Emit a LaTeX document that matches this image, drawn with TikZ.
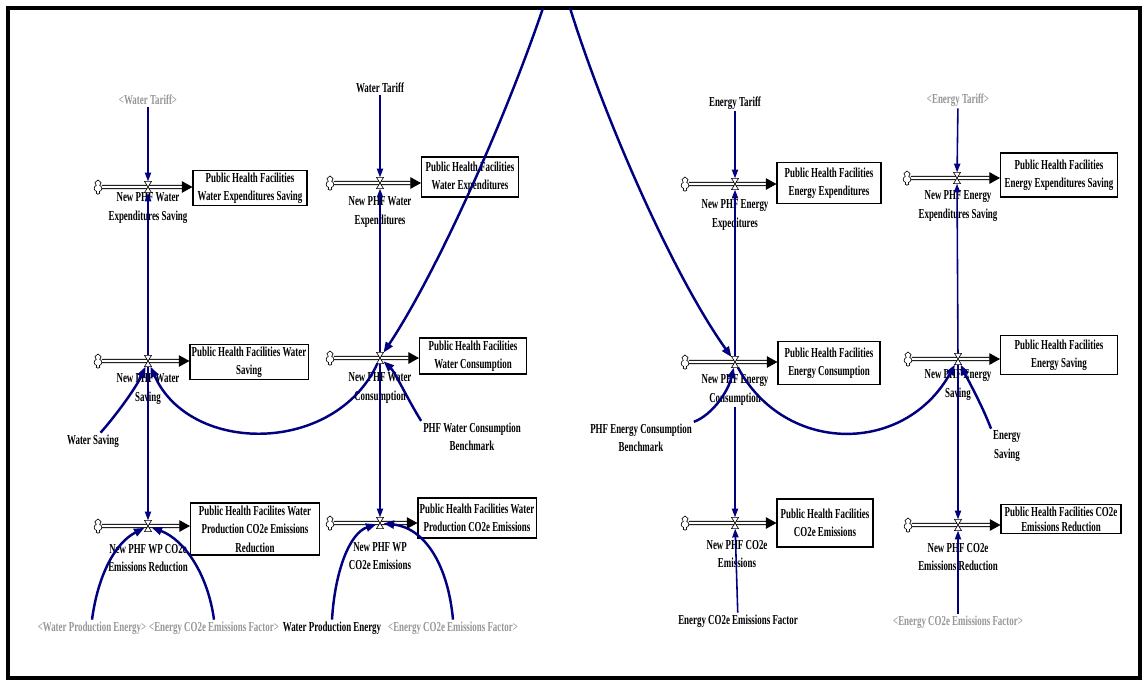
\documentclass[tikz,border=0pt]{standalone}
\usepackage{fontspec}
\setmainfont{Liberation Serif}[FakeStretch=0.65]
\usetikzlibrary{arrows.meta, shapes.symbols}
\definecolor{vblue}{RGB}{0,0,128}
\definecolor{vgray}{RGB}{150,150,150}
\newcommand{\vfont}{\bfseries\fontsize{7.8pt}{10.5pt}\selectfont}

\begin{document}
\begin{tikzpicture}[x=0.02cm, y=-0.02cm,
  stock/.style={rectangle, draw=black, line width=0.6pt, fill=white, align=center,
                inner sep=1pt, font=\vfont},
  varlbl/.style={align=center, inner sep=1pt, font=\vfont},
  shadow/.style={varlbl, text=vgray},
  valve/.style={inner sep=0pt, minimum width=3.6pt, minimum height=6pt},
  valvemark/.style={draw=black, fill=white, line width=0.35pt},
  sink/.style={cloud, cloud puffs=7, draw=black, line width=0.35pt, inner sep=0pt,
               minimum width=4.5pt, minimum height=8pt},
  pipe/.style={double, double distance=1.3pt, line width=0.5pt,
               -{Triangle[length=6pt,width=6.5pt]}},
  link/.style={draw=vblue, line width=0.9pt, -{Triangle[length=5pt,width=3.5pt]}},
  curvelink/.style={draw=vblue, line width=1.4pt, -{Triangle[length=6pt,width=4.5pt]}}
]
  \useasboundingbox (0,0) rectangle (1146,681);
  \draw[line width=2pt] (8,8) rectangle (1140,678);
  \coordinate (topa) at (543,8);
  \coordinate (topb) at (570,8);

  \node[stock, minimum width=2.28cm, minimum height=0.66cm] (wes) at (250,188) {Public Health Facilities\\Water Expenditures Saving};
  \node[stock, minimum width=1.94cm, minimum height=0.80cm] (wex) at (470,177) {Public Health Facilities\\Water Expenditures};
  \node[stock, minimum width=2.08cm, minimum height=0.82cm] (eex) at (829,183) {Public Health Facilities\\Energy Expenditures};
  \node[stock, minimum width=2.34cm, minimum height=0.88cm] (ees) at (1059,175) {Public Health Facilities\\Energy Expenditures Saving};
  \node[stock, minimum width=2.36cm, minimum height=0.66cm] (wsa) at (249,362) {Public Health Facilities Water\\Saving};
  \node[stock, minimum width=2.14cm, minimum height=0.72cm] (wco) at (473,356) {Public Health Facilities\\Water Consumption};
  \node[stock, minimum width=2.04cm, minimum height=0.86cm] (eco) at (829,363) {Public Health Facilities\\Energy Consumption};
  \node[stock, minimum width=2.34cm, minimum height=0.78cm] (esa) at (1059,355) {Public Health Facilities\\Energy Saving};
  \node[stock, minimum width=2.58cm, minimum height=1.04cm] (wer) at (255,529) {Public Health Facilites Water\\Production CO2e Emissions\\Reduction};
  \node[stock, minimum width=2.36cm, minimum height=0.80cm] (wem) at (477,518) {Public Health Facilities Water\\Production CO2e Emissions};
  \node[stock, minimum width=1.92cm, minimum height=0.96cm] (eem) at (825,523) {Public Health Facilities\\CO2e Emissions};
  \node[stock, minimum width=2.40cm, minimum height=0.56cm,
        font=\bfseries\fontsize{7.8pt}{8.6pt}\selectfont] (eer) at (1061,519) {Public Health Facilities CO2e\\Emissions Reduction};

  \node[varlbl] (wesl) at (148,208) {New PHF Water\\Expenditures Saving};
  \node[varlbl] (wexl) at (380,212) {New PHF Water\\Expenditures};
  \node[varlbl] (eexl) at (735,215) {New PHF Energy\\Expeditures};
  \node[varlbl] (eesl) at (958,206) {New PHF Energy\\Expenditures Saving};
  \node[varlbl] (wsal) at (148,389) {New PHF Water\\Saving};
  \node[varlbl] (wcol) at (380,388) {New PHF Water\\Consumption};
  \node[varlbl] (ecol) at (735,390) {New PHF Energy\\Consumption};
  \node[varlbl] (esal) at (958,385) {New PHF Energy\\Saving};
  \node[varlbl] (werl) at (148,558) {New PHF WP CO2e\\Emissions Reduction};
  \node[varlbl] (weml) at (380,556) {New PHF WP\\CO2e Emissions};
  \node[varlbl] (eeml) at (737,554) {New PHF CO2e\\Emissions};
  \node[varlbl] (eerl) at (958,557) {New PHF CO2e\\Emissions Reduction};

  \node[shadow] (wt1)  at (148,100) {<Water Tariff>};
  \node[varlbl] (wt2)  at (380,88)  {Water Tariff};
  \node[varlbl] (et3)  at (735,103) {Energy Tariff};
  \node[shadow] (et4)  at (958,100) {<Energy Tariff>};
  \node[varlbl] (ws)   at (93,441)  {Water Saving};
  \node[varlbl] (bw)   at (472,437) {PHF Water Consumption\\Benchmark};
  \node[varlbl] (be)   at (641,438) {PHF Energy Consumption\\Benchmark};
  \node[varlbl] (es)   at (1007,446) {Energy\\Saving};
  \node[shadow] (wpe1) at (92,628)  {<Water Production Energy>};
  \node[shadow] (ef1)  at (214,628) {<Energy CO2e Emissions Factor>};
  \node[varlbl] (wpe2) at (332,628) {Water Production Energy};
  \node[shadow] (ef2)  at (453,628) {<Energy CO2e Emissions Factor>};
  \node[varlbl] (ef3)  at (738,621) {Energy CO2e Emissions Factor};
  \node[shadow] (ef4)  at (958,622) {<Energy CO2e Emissions Factor>};

  \foreach \nm/\x/\y in {wes/148/187, wex/380/183, eex/735/184, ees/957/178,
                         wsa/148/361, wco/380/358, eco/735/362, esa/958/359,
                         wer/148/526, wem/380/523, eem/735/523, eer/958/525} {
    \node[sink] (\nm c) at (\x-50,\y) {};
    \node[valve] (\nm v) at (\x,\y) {};
    \draw[pipe] (\nm c) -- (\nm c -| \nm.west);
    \draw[valvemark] (\nm v.north west) -- (\nm v.north east) -- (\nm v.south west)
      -- (\nm v.south east) -- cycle;
  }

  \draw[link] (wt1) -- (wesv);
  \draw[link] (wsav) -- (wesv);
  \draw[link] (wsav) -- (werv);
  \draw[link] (wt2) -- (wexv);
  \draw[link] (wcov) -- (wexv);
  \draw[link] (wcov) -- (wemv);
  \draw[link] (et3) -- (eexv);
  \draw[link] (ecov) -- (eexv);
  \draw[link] (ecol) -- (eemv);
  \draw[link] (ef3) -- (eemv);
  \draw[link] (et4) -- (eesv);
  \draw[link] (esav) -- (eesv);
  \draw[link] (esav) -- (eerv);
  \draw[link] (ef4) -- (eerv);

  \draw[curvelink] (topa) .. controls (505,120) and (437,272) .. (wcov);
  \draw[curvelink] (topb) .. controls (605,120) and (673,275) .. (ecov);
  \draw[curvelink] (wcov) .. controls (335,455) and (190,455) .. (wsav);
  \draw[curvelink] (ecov) .. controls (785,455) and (905,455) .. (esav);
  \draw[curvelink] (ws) .. controls (112,420) and (135,390) .. (wsav);
  \draw[curvelink] (bw.north west) .. controls (408,400) and (395,372) .. (wcov);
  \draw[curvelink] (be.north east) .. controls (712,415) and (728,392) .. (ecov);
  \draw[curvelink] (es.north west) .. controls (982,405) and (968,380) .. (esav);
  \draw[curvelink] (wpe1.north) .. controls (98,575) and (115,543) .. (werv);
  \draw[curvelink] (ef1.north) .. controls (208,575) and (185,540) .. (werv);
  \draw[curvelink] (wpe2.north) .. controls (335,570) and (350,533) .. (wemv);
  \draw[curvelink] (ef2.north) .. controls (448,565) and (425,528) .. (wemv);
\end{tikzpicture}
\end{document}
